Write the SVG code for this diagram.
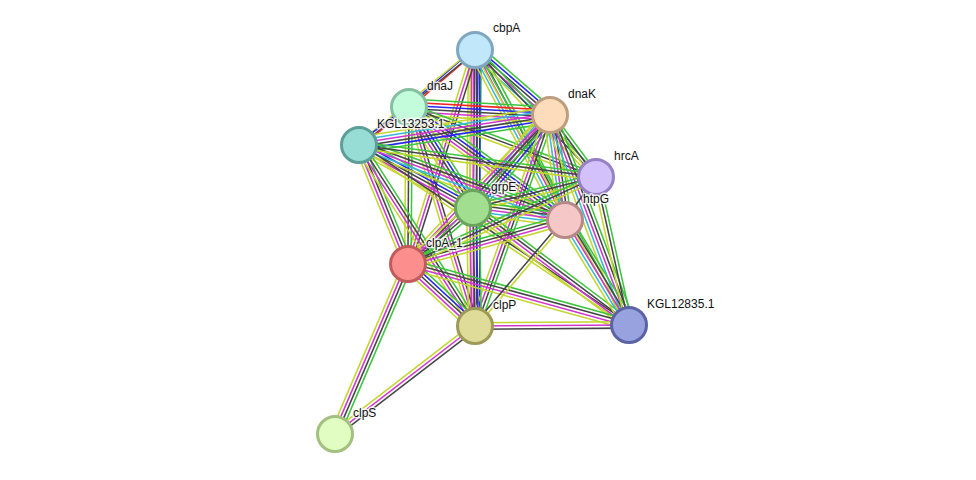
<svg xmlns="http://www.w3.org/2000/svg" width="976" height="480" viewBox="0 0 976 480">
<style>
line{stroke-width:1.3;fill:none}
.g{stroke:#3cc43c}.r{stroke:#f02626}.b{stroke:#2626f0}.k{stroke:#454545}.m{stroke:#d035d0}.c{stroke:#38b8d8}.y{stroke:#c4d62e}
circle{stroke-width:3}
text{font-family:"Liberation Sans",Arial,sans-serif;font-size:12px;fill:#111;stroke:#fff;stroke-width:3;stroke-opacity:0.8;paint-order:stroke;stroke-linejoin:round}
</style>
<rect width="976" height="480" fill="#fff"/>
<g id="edges">
<g transform="translate(475 50) rotate(139.2) scale(1 1.18)"><line x2="87.2" y1="-1.35" y2="-1.35" class="r"/><line x2="87.2" y1="1.35" y2="1.35" class="b"/></g>
<g transform="translate(475 50) rotate(40.9) scale(1 1.18)"><line x2="99.2" y1="-5.4" y2="-5.4" class="g"/><line x2="99.2" y1="-2.7" y2="-2.7" class="b"/><line x2="99.2" class="k"/><line x2="99.2" y1="2.7" y2="2.7" class="m"/><line x2="99.2" y1="5.4" y2="5.4" class="c"/></g>
<g transform="translate(475 50) rotate(140.7) scale(1 1.18)"><line x2="149.9" y1="-1.35" y2="-1.35" class="k"/><line x2="149.9" y1="1.35" y2="1.35" class="y"/></g>
<g transform="translate(475 50) rotate(90.7) scale(1 1.18)"><line x2="158" y1="-5.4" y2="-5.4" class="g"/><line x2="158" y1="-2.7" y2="-2.7" class="b"/><line x2="158" class="k"/><line x2="158" y1="2.7" y2="2.7" class="m"/><line x2="158" y1="5.4" y2="5.4" class="y"/></g>
<g transform="translate(475 50) rotate(90) scale(1 1.18)"><line x2="276" y1="-4.05" y2="-4.05" class="b"/><line x2="276" y1="-1.35" y2="-1.35" class="k"/><line x2="276" y1="1.35" y2="1.35" class="m"/><line x2="276" y1="4.05" y2="4.05" class="y"/></g>
<g transform="translate(475 50) rotate(107.4) scale(1 1.18)"><line x2="224.2" y1="-2.7" y2="-2.7" class="k"/><line x2="224.2" class="m"/><line x2="224.2" y1="2.7" y2="2.7" class="y"/></g>
<g transform="translate(475 50) rotate(62.1) scale(1 1.18)"><line x2="192.4" y1="-5.4" y2="-5.4" class="g"/><line x2="192.4" y1="-2.7" y2="-2.7" class="k"/><line x2="192.4" class="m"/><line x2="192.4" y1="2.7" y2="2.7" class="c"/><line x2="192.4" y1="5.4" y2="5.4" class="y"/></g>
<g transform="translate(475 50) rotate(46.4) scale(1 1.18)"><line x2="175.4" y1="-2.7" y2="-2.7" class="g"/><line x2="175.4" class="k"/><line x2="175.4" y1="2.7" y2="2.7" class="y"/></g>
<g transform="translate(475 50) rotate(60.8) scale(1 1.18)"><line x2="315.2" y1="-1.35" y2="-1.35" class="g"/><line x2="315.2" y1="1.35" y2="1.35" class="y"/></g>
<g transform="translate(409 107) rotate(3.2) scale(1 1.18)"><line x2="141.2" y1="-6.75" y2="-6.75" class="g"/><line x2="141.2" y1="-4.05" y2="-4.05" class="r"/><line x2="141.2" y1="-1.35" y2="-1.35" class="b"/><line x2="141.2" y1="1.35" y2="1.35" class="k"/><line x2="141.2" y1="4.05" y2="4.05" class="m"/><line x2="141.2" y1="6.75" y2="6.75" class="y"/></g>
<g transform="translate(409 107) rotate(142.8) scale(1 1.18)"><line x2="62.8" y1="-1.35" y2="-1.35" class="r"/><line x2="62.8" y1="1.35" y2="1.35" class="b"/></g>
<g transform="translate(409 107) rotate(57.6) scale(1 1.18)"><line x2="119.6" y1="-5.4" y2="-5.4" class="g"/><line x2="119.6" y1="-2.7" y2="-2.7" class="b"/><line x2="119.6" class="k"/><line x2="119.6" y1="2.7" y2="2.7" class="m"/><line x2="119.6" y1="5.4" y2="5.4" class="y"/></g>
<g transform="translate(409 107) rotate(90.4) scale(1 1.18)"><line x2="157" y1="-2.7" y2="-2.7" class="g"/><line x2="157" class="k"/><line x2="157" y1="2.7" y2="2.7" class="y"/></g>
<g transform="translate(409 107) rotate(73.2) scale(1 1.18)"><line x2="228.7" y1="-2.7" y2="-2.7" class="k"/><line x2="228.7" class="m"/><line x2="228.7" y1="2.7" y2="2.7" class="y"/></g>
<g transform="translate(409 107) rotate(35.9) scale(1 1.18)"><line x2="192.6" y1="-5.4" y2="-5.4" class="g"/><line x2="192.6" y1="-2.7" y2="-2.7" class="b"/><line x2="192.6" class="k"/><line x2="192.6" y1="2.7" y2="2.7" class="m"/><line x2="192.6" y1="5.4" y2="5.4" class="y"/></g>
<g transform="translate(409 107) rotate(20.5) scale(1 1.18)"><line x2="199.7" y1="-2.7" y2="-2.7" class="g"/><line x2="199.7" class="k"/><line x2="199.7" y1="2.7" y2="2.7" class="y"/></g>
<g transform="translate(550 115) rotate(171.1) scale(1 1.18)"><line x2="193.3" y1="-6.75" y2="-6.75" class="g"/><line x2="193.3" y1="-4.05" y2="-4.05" class="b"/><line x2="193.3" y1="-1.35" y2="-1.35" class="k"/><line x2="193.3" y1="1.35" y2="1.35" class="m"/><line x2="193.3" y1="4.05" y2="4.05" class="c"/><line x2="193.3" y1="6.75" y2="6.75" class="y"/></g>
<g transform="translate(550 115) rotate(129.6) scale(1 1.18)"><line x2="120.7" y1="-6.75" y2="-6.75" class="g"/><line x2="120.7" y1="-4.05" y2="-4.05" class="b"/><line x2="120.7" y1="-1.35" y2="-1.35" class="k"/><line x2="120.7" y1="1.35" y2="1.35" class="m"/><line x2="120.7" y1="4.05" y2="4.05" class="c"/><line x2="120.7" y1="6.75" y2="6.75" class="y"/></g>
<g transform="translate(550 115) rotate(133.6) scale(1 1.18)"><line x2="205.8" y1="-4.05" y2="-4.05" class="g"/><line x2="205.8" y1="-1.35" y2="-1.35" class="k"/><line x2="205.8" y1="1.35" y2="1.35" class="m"/><line x2="205.8" y1="4.05" y2="4.05" class="y"/></g>
<g transform="translate(550 115) rotate(109.6) scale(1 1.18)"><line x2="223.9" y1="-4.05" y2="-4.05" class="g"/><line x2="223.9" y1="-1.35" y2="-1.35" class="k"/><line x2="223.9" y1="1.35" y2="1.35" class="m"/><line x2="223.9" y1="4.05" y2="4.05" class="y"/></g>
<g transform="translate(550 115) rotate(81.9) scale(1 1.18)"><line x2="106.1" y1="-5.4" y2="-5.4" class="g"/><line x2="106.1" y1="-2.7" y2="-2.7" class="k"/><line x2="106.1" class="m"/><line x2="106.1" y1="2.7" y2="2.7" class="c"/><line x2="106.1" y1="5.4" y2="5.4" class="y"/></g>
<g transform="translate(550 115) rotate(53.4) scale(1 1.18)"><line x2="77.2" y1="-2.7" y2="-2.7" class="g"/><line x2="77.2" class="k"/><line x2="77.2" y1="2.7" y2="2.7" class="y"/></g>
<g transform="translate(550 115) rotate(69.4) scale(1 1.18)"><line x2="224.4" y1="-5.4" y2="-5.4" class="g"/><line x2="224.4" y1="-2.7" y2="-2.7" class="k"/><line x2="224.4" class="m"/><line x2="224.4" y1="2.7" y2="2.7" class="c"/><line x2="224.4" y1="5.4" y2="5.4" class="y"/></g>
<g transform="translate(359 145) rotate(28.9) scale(1 1.18)"><line x2="130.2" y1="-5.4" y2="-5.4" class="g"/><line x2="130.2" y1="-2.7" y2="-2.7" class="b"/><line x2="130.2" class="k"/><line x2="130.2" y1="2.7" y2="2.7" class="m"/><line x2="130.2" y1="5.4" y2="5.4" class="y"/></g>
<g transform="translate(359 145) rotate(67.6) scale(1 1.18)"><line x2="128.7" y1="-4.05" y2="-4.05" class="g"/><line x2="128.7" y1="-1.35" y2="-1.35" class="k"/><line x2="128.7" y1="1.35" y2="1.35" class="m"/><line x2="128.7" y1="4.05" y2="4.05" class="y"/></g>
<g transform="translate(359 145) rotate(57.3) scale(1 1.18)"><line x2="215" y1="-4.05" y2="-4.05" class="g"/><line x2="215" y1="-1.35" y2="-1.35" class="k"/><line x2="215" y1="1.35" y2="1.35" class="m"/><line x2="215" y1="4.05" y2="4.05" class="y"/></g>
<g transform="translate(359 145) rotate(20) scale(1 1.18)"><line x2="219.2" y1="-5.4" y2="-5.4" class="g"/><line x2="219.2" y1="-2.7" y2="-2.7" class="k"/><line x2="219.2" class="m"/><line x2="219.2" y1="2.7" y2="2.7" class="c"/><line x2="219.2" y1="5.4" y2="5.4" class="y"/></g>
<g transform="translate(359 145) rotate(7.7) scale(1 1.18)"><line x2="239.2" y1="-2.7" y2="-2.7" class="g"/><line x2="239.2" class="k"/><line x2="239.2" y1="2.7" y2="2.7" class="y"/></g>
<g transform="translate(359 145) rotate(33.7) scale(1 1.18)"><line x2="324.5" y1="-1.35" y2="-1.35" class="k"/><line x2="324.5" y1="1.35" y2="1.35" class="y"/></g>
<g transform="translate(473 208) rotate(139.3) scale(1 1.18)"><line x2="85.8" y1="-4.05" y2="-4.05" class="g"/><line x2="85.8" y1="-1.35" y2="-1.35" class="k"/><line x2="85.8" y1="1.35" y2="1.35" class="m"/><line x2="85.8" y1="4.05" y2="4.05" class="y"/></g>
<g transform="translate(473 208) rotate(89) scale(1 1.18)"><line x2="118" y1="-5.4" y2="-5.4" class="g"/><line x2="118" y1="-2.7" y2="-2.7" class="b"/><line x2="118" class="k"/><line x2="118" y1="2.7" y2="2.7" class="m"/><line x2="118" y1="5.4" y2="5.4" class="y"/></g>
<g transform="translate(473 208) rotate(7.4) scale(1 1.18)"><line x2="92.8" y1="-5.4" y2="-5.4" class="g"/><line x2="92.8" y1="-2.7" y2="-2.7" class="k"/><line x2="92.8" class="m"/><line x2="92.8" y1="2.7" y2="2.7" class="c"/><line x2="92.8" y1="5.4" y2="5.4" class="y"/></g>
<g transform="translate(473 208) rotate(-14.1) scale(1 1.18)"><line x2="126.8" y1="-2.7" y2="-2.7" class="g"/><line x2="126.8" class="k"/><line x2="126.8" y1="2.7" y2="2.7" class="y"/></g>
<g transform="translate(473 208) rotate(36.9) scale(1 1.18)"><line x2="195" y1="-4.05" y2="-4.05" class="g"/><line x2="195" y1="-1.35" y2="-1.35" class="k"/><line x2="195" y1="1.35" y2="1.35" class="m"/><line x2="195" y1="4.05" y2="4.05" class="y"/></g>
<g transform="translate(408 264) rotate(42.8) scale(1 1.18)"><line x2="91.3" y1="-5.4" y2="-5.4" class="g"/><line x2="91.3" y1="-2.7" y2="-2.7" class="b"/><line x2="91.3" class="k"/><line x2="91.3" y1="2.7" y2="2.7" class="m"/><line x2="91.3" y1="5.4" y2="5.4" class="y"/></g>
<g transform="translate(408 264) rotate(-15.7) scale(1 1.18)"><line x2="163" y1="-4.05" y2="-4.05" class="g"/><line x2="163" y1="-1.35" y2="-1.35" class="k"/><line x2="163" y1="1.35" y2="1.35" class="m"/><line x2="163" y1="4.05" y2="4.05" class="y"/></g>
<g transform="translate(408 264) rotate(-24.8) scale(1 1.18)"><line x2="207.2" y1="-2.7" y2="-2.7" class="g"/><line x2="207.2" class="k"/><line x2="207.2" y1="2.7" y2="2.7" class="y"/></g>
<g transform="translate(408 264) rotate(15.4) scale(1 1.18)"><line x2="229.3" y1="-4.05" y2="-4.05" class="g"/><line x2="229.3" y1="-1.35" y2="-1.35" class="k"/><line x2="229.3" y1="1.35" y2="1.35" class="m"/><line x2="229.3" y1="4.05" y2="4.05" class="y"/></g>
<g transform="translate(408 264) rotate(113.2) scale(1 1.18)"><line x2="185" y1="-4.05" y2="-4.05" class="g"/><line x2="185" y1="-1.35" y2="-1.35" class="k"/><line x2="185" y1="1.35" y2="1.35" class="m"/><line x2="185" y1="4.05" y2="4.05" class="y"/></g>
<g transform="translate(475 326) rotate(-49.7) scale(1 1.18)"><line x2="139.1" y1="-1.35" y2="-1.35" class="k"/><line x2="139.1" y1="1.35" y2="1.35" class="y"/></g>
<g transform="translate(475 326) rotate(-0.4) scale(1 1.18)"><line x2="154" y1="-2.7" y2="-2.7" class="y"/><line x2="154" class="m"/><line x2="154" y1="2.7" y2="2.7" class="k"/></g>
<g transform="translate(475 326) rotate(142.4) scale(1 1.18)"><line x2="176.8" y1="-2.7" y2="-2.7" class="k"/><line x2="176.8" class="m"/><line x2="176.8" y1="2.7" y2="2.7" class="y"/></g>
<g transform="translate(565 220) rotate(-54.2) scale(1 1.18)"><line x2="53" class="k"/></g>
<g transform="translate(565 220) rotate(58.6) scale(1 1.18)"><line x2="123" y1="-5.4" y2="-5.4" class="g"/><line x2="123" y1="-2.7" y2="-2.7" class="k"/><line x2="123" class="m"/><line x2="123" y1="2.7" y2="2.7" class="c"/><line x2="123" y1="5.4" y2="5.4" class="y"/></g>
<g transform="translate(596 177) rotate(77.4) scale(1 1.18)"><line x2="151.6" y1="-2.7" y2="-2.7" class="g"/><line x2="151.6" class="k"/><line x2="151.6" y1="2.7" y2="2.7" class="y"/></g>
</g>
<g id="cbpA"><circle cx="475" cy="50" r="17.5" fill="#c1e7fb" stroke="#7fa7c0"/><text x="493" y="32">cbpA</text></g>
<g id="dnaJ"><circle cx="409" cy="107" r="17.5" fill="#c3fcdb" stroke="#84bf9f"/><text x="427" y="90">dnaJ</text></g>
<g id="dnaK"><circle cx="550" cy="115" r="17.5" fill="#fddcbb" stroke="#bc9e7f"/><text x="568" y="98">dnaK</text></g>
<g id="KGL13253.1"><circle cx="359" cy="145" r="17.5" fill="#98ddd5" stroke="#5c9f98"/><text x="377" y="128">KGL13253.1</text></g>
<g id="hrcA"><circle cx="596" cy="177" r="17.5" fill="#d3c1fb" stroke="#9781c6"/><text x="614" y="160">hrcA</text></g>
<g id="grpE"><circle cx="473" cy="208" r="17.5" fill="#a1de90" stroke="#6aa55b"/><text x="491" y="191">grpE</text></g>
<g id="htpG"><circle cx="565" cy="220" r="17.5" fill="#f6c7c7" stroke="#b58989"/><text x="583" y="203">htpG</text></g>
<g id="clpA_1"><circle cx="408" cy="264" r="17.5" fill="#fc8e8e" stroke="#c15b5b"/><text x="426" y="247">clpA_1</text></g>
<g id="clpP"><circle cx="475" cy="326" r="17.5" fill="#dfdb98" stroke="#9c9959"/><text x="493" y="309">clpP</text></g>
<g id="KGL12835.1"><circle cx="629" cy="325" r="17.5" fill="#98a2df" stroke="#5b63a5"/><text x="647" y="308">KGL12835.1</text></g>
<g id="clpS"><circle cx="335" cy="434" r="17.5" fill="#e1fdc1" stroke="#a3c081"/><text x="353" y="417">clpS</text></g>
</svg>
